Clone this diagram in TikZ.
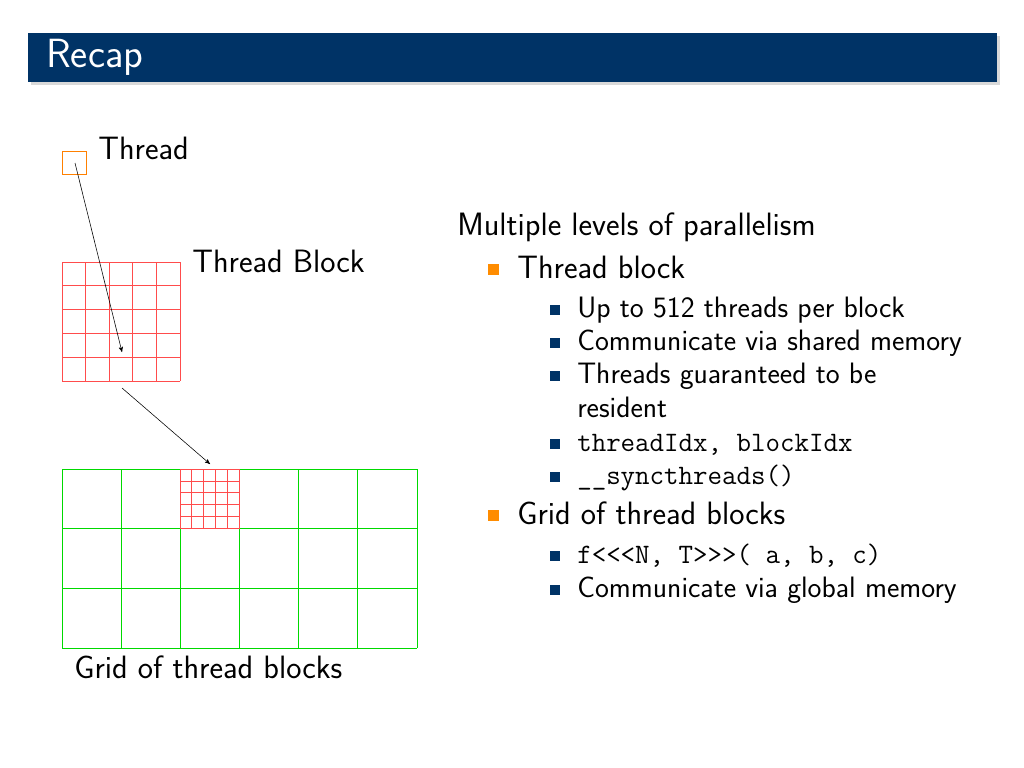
\documentclass[tikz,border=0pt]{standalone}
\usepackage{tikz}
\usetikzlibrary{arrows, positioning, shadows}
\usepackage{xcolor}
\definecolor{navy}{RGB}{0,51,102}
\definecolor{bulor}{RGB}{255,140,0}
\tikzset{
  txt/.style={anchor=base west, inner sep=0pt, font=\sffamily\fontsize{23}{26}\selectfont},
  sub/.style={txt, font=\sffamily\fontsize{21}{24}\selectfont},
  cell/.style={draw=red!70, line width=0.6pt},
  gcell/.style={draw=green!75!black!60!green, line width=0.6pt},
  link/.style={-stealth', thin, black}
}
\begin{document}
\begin{tikzpicture}[x=0.025cm, y=-0.025cm]\sffamily
        \useasboundingbox (0,0) rectangle (1024,768);

        % title bar
        \fill[navy, drop shadow={opacity=0.3, shadow yshift=-0.08cm}] (28,33) rectangle (997,82);
        \node[anchor=base west, inner sep=0pt, text=white, font=\sffamily\fontsize{29}{32}\selectfont] (title) at (46,68) {Recap};

        % thread
        \draw[draw=orange, line width=0.6pt] (62,151) rectangle (86,174);
        \coordinate (thr) at (75,163);
        \node[txt] (lthr) at (98,160) {Thread};

        % thread block
        \foreach \k in {0,...,5} {
            \draw[cell] (62+23.6*\k,262) -- (62+23.6*\k,381);
            \draw[cell] (62,262+23.8*\k) -- (180,262+23.8*\k);
        }
        \coordinate (blkin) at (122,352);
        \coordinate (blkout) at (122,388);
        \node[txt] (lblk) at (192,272) {Thread Block};

        % grid of blocks
        \foreach \k in {0,...,6} \draw[gcell] (62+59.17*\k,469) -- (62+59.17*\k,648);
        \foreach \k in {0,...,3} \draw[gcell] (62,469+59.67*\k) -- (417,469+59.67*\k);
        \foreach \k in {0,...,5} {
            \draw[cell] (180+11.83*\k,469) -- (180+11.83*\k,528.7);
            \draw[cell] (180,469+11.93*\k) -- (239.2,469+11.93*\k);
        }
        \coordinate (gin) at (210,464);
        \node[txt] (lgrid) at (74,678) {Grid of thread blocks};

        \draw[link] (thr) -- (blkin);
        \draw[link] (blkout) -- (gin);

        % bullet list
        \node[txt] (head) at (457,235) {Multiple levels of parallelism};
        \foreach \y/\t [count=\i] in {278/Thread block, 524/Grid of thread blocks} {
            \fill[bulor] (488,\y-14) rectangle (499,\y-3);
            \node[txt] (top\i) at (517,\y) {\t};
        }
        \foreach \y/\t [count=\i] in {
            317/Up to 512 threads per block,
            350/Communicate via shared memory,
            383/Threads guaranteed to be,
            451/{\ttfamily\fontsize{20}{24}\selectfont threadIdx, blockIdx},
            484/{\ttfamily\fontsize{20}{24}\selectfont \_\_syncthreads()},
            563/{\ttfamily\fontsize{20}{24}\selectfont f<{}<{}<N, T>{}>{}>( a, b, c)},
            597/Communicate via global memory} {
            \fill[navy] (550,\y-12) rectangle (560,\y-2);
            \node[sub] (item\i) at (577,\y) {\t};
        }
        \node[sub] (cont) at (577,417) {resident};
\end{tikzpicture}
\end{document}
